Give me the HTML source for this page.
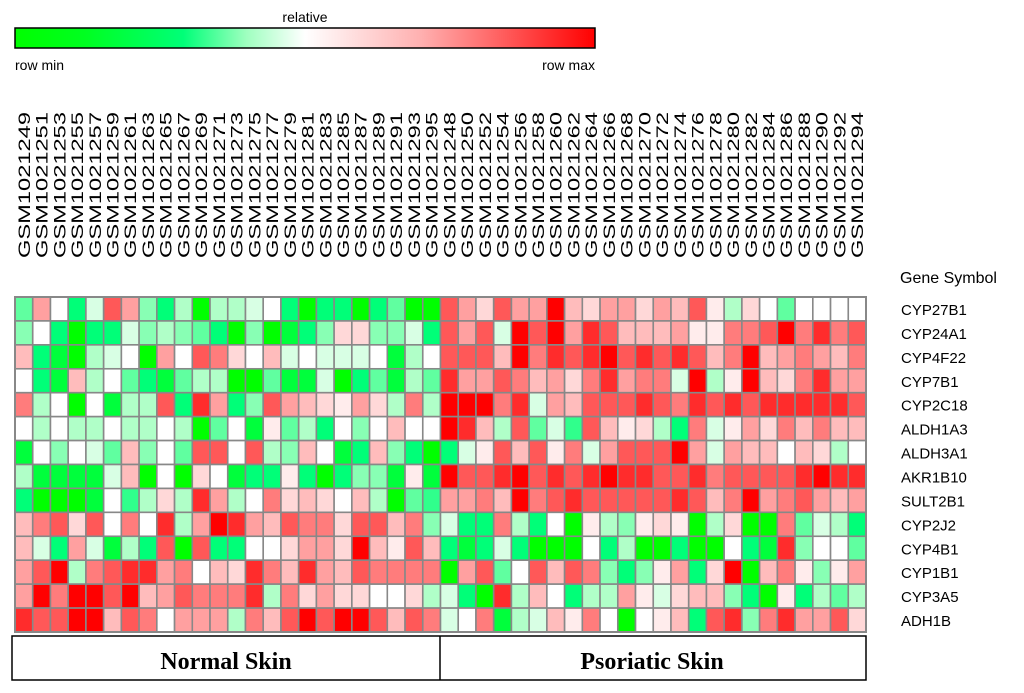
<!DOCTYPE html>
<html><head><meta charset="utf-8"><style>
html,body{margin:0;padding:0;background:#fff;}
body{width:1024px;height:693px;overflow:hidden;}
svg{display:block;}
</style></head><body>
<svg id="chart" width="1024" height="693" xmlns="http://www.w3.org/2000/svg" font-family="Liberation Sans, Arial, sans-serif">
<defs><linearGradient id="cg" x1="0" x2="1" y1="0" y2="0">
<stop offset="0" stop-color="#00ff00"/><stop offset="0.12" stop-color="#00ff20"/><stop offset="0.29" stop-color="#00ff78"/><stop offset="0.4" stop-color="#a0ffc0"/><stop offset="0.5" stop-color="#ffffff"/><stop offset="0.7" stop-color="#ffb0b0"/><stop offset="1" stop-color="#ff0000"/>
</linearGradient></defs>
<g>
<text x="305" y="22" font-size="14" text-anchor="middle" fill="#000">relative</text>
<rect x="15" y="28" width="580" height="20" fill="url(#cg)" stroke="#000" stroke-width="1.5"/>
<text x="15" y="70" font-size="14" fill="#000">row min</text>
<text x="595" y="70" font-size="14" text-anchor="end" fill="#000">row max</text>
</g>
<text x="900" y="283" font-size="16" fill="#000">Gene Symbol</text>
<g id="cols"></g>
<g id="rows"></g>
<g id="cells"></g>
<g>
<rect x="12" y="636" width="854" height="44" fill="#fff" stroke="#000" stroke-width="1.5"/>
<line x1="440" y1="636" x2="440" y2="680" stroke="#000" stroke-width="1.5"/>
<text x="226" y="669" font-size="24" font-weight="bold" font-family="Liberation Serif, serif" text-anchor="middle">Normal Skin</text>
<text x="652" y="669" font-size="24" font-weight="bold" font-family="Liberation Serif, serif" text-anchor="middle">Psoriatic Skin</text>
</g>
</svg>
<script>
const genes = ["CYP27B1","CYP24A1","CYP4F22","CYP7B1","CYP2C18","ALDH1A3","ALDH3A1","AKR1B10","SULT2B1","CYP2J2","CYP4B1","CYP1B1","CYP3A5","ADH1B"];
const normalSamples = [249,251,253,255,257,259,261,263,265,267,269,271,273,275,277,279,281,283,285,287,289,291,293,295];
const psoriaticSamples = [248,250,252,254,256,258,260,262,264,266,268,270,272,274,276,278,280,282,284,286,288,290,292,294];
// values 0 (row min, green) .. 4 (white) .. 8 (row max, red)
const normalValues = [
[2,6,4,1,3.5,7,6,2.5,1,3,0,3,3,3.5,4,1,0,1,1,0,1,2,0,0],
[2.5,4,1,0,1,1,3.5,2.5,3,2.5,2,1,0,2.5,0,0.5,1,2.5,5,5,2.5,2.5,3.5,1],
[5.5,1,0.5,0,3,3.5,4,0,6,4,7,6.5,5,4,5.5,3.5,4,3.5,3.5,3.5,4,0.5,3,4],
[4,1,0.5,5.5,3,4,2,1,0.5,2,3,3,0,0,2,0.5,0.5,3.5,0,1,2,0.5,3,2],
[6.5,3,4,0,4,0.5,3,3,7,1,7.5,6,1,2.5,7,6,5.5,5,4.5,6,5,3,6.5,3],
[4,3,4,3,3,4,3,3,4,3,0,2,4,0.5,4.5,2,3,1,4,2.5,4,5.5,4,4],
[0.5,4,2.5,4,3.5,2,5.5,2.5,4,2,7,7,4,7,3,2.5,5.5,4,0.5,1,5.5,2.5,1,0],
[3,0.5,0.5,0.5,0.5,3.5,5.5,0,4,0,5,4,0.5,1,1,4.5,1,0,1,2.5,2.5,0.5,4.5,0.5],
[1,0,0,0,0.5,4,1.5,3,5,3,7.5,6,3,4,6.5,5,5.5,5,4,5.5,3,0,2,1.5],
[5.5,6.5,7,5,7,4,6.5,4,7.5,3,6,8,7.5,6,5.5,7,6.5,6.5,5,7,7,5.5,6.5,2.5],
[5.5,3.5,1,6,3.5,0.5,3,1,7,0,7,1,1,4,4,5,6,6,5,8,5.5,4.5,7,5.5],
[6,7,8,3,6.5,7,7.5,7.5,6,6.5,4,5.5,5,7.5,6.5,5.5,7.5,6,5.5,7,6.5,6.5,6.5,6.5],
[6,8,6.5,8,8,7,8,5.5,6,7,6.5,6.5,6.5,7.5,3,6.5,5,6,5,5,4,4,5,3],
[7.5,7,7,8,8,5.5,7,6.5,4,6,6,6,3,6.5,5.5,7,8,7,8,8,7,5.5,7,6.5]
];
const psoriaticValues = [
[7,6,5,7,6,6,8,5.5,5,6,6,5,6,5.5,7,4.5,3,5,4,2,4,4,4,4],
[7,6,7,3.5,8,7,8,6,7.5,7,5.5,5.5,5.5,6,4.5,4.5,6.5,6.5,7,8,6.5,7.5,6.5,7],
[7,7,7,5.5,8,6.5,7.5,7,7.5,8,7,7.5,7,7.5,7,5.5,6.5,8,5.5,6,6.5,6,5.5,6.5],
[7.5,6,6,7,6.5,5.5,6,5,6.5,7.5,6,6.5,6.5,3.5,8,3,4.5,8,5.5,5,6.5,7.5,6,6],
[8,8,8,6.5,7.5,3.5,6,5.5,7,7,7,7.5,7,6.5,7.5,7,7.5,7,7.5,7.5,7.5,7.5,7.5,7],
[8,7.5,5.5,3,7,2,3.5,1.5,7,5.5,4.5,5,3,1,6.5,3.5,4.5,6,5,6.5,5.5,6.5,5.5,5.5],
[1,3.5,4.5,7,5.5,7,4.5,6.5,3.5,6,7,7,7,8,6,3.5,6,5.5,5.5,4,5.5,5,3,4],
[8,7,7,7.5,8,7,7.5,7,7.5,8,7.5,7.5,7,7,7.5,6.5,7,7,7,7,7.5,8,7.5,7.5],
[6,6,6.5,5.5,8,6.5,7,7.5,7,7,7,7,7,7.5,7,5.5,6.5,8,6,6.5,7,6,5.5,6],
[3.5,1,1,6.5,3,1,4,0,4.5,3,2.5,4.5,5,4.5,0,3,5,0,0,6.5,2,3.5,3,1],
[1,0.5,1,3.5,1,0,0,0,4,1,3,0,0,1,0,0,4,1,0.5,7.5,2.5,4,4,2],
[0,6,7,2,4,7,5.5,7,6.5,2.5,1,2.5,4.5,6,1,5,8,0,5.5,6.5,4.5,2.5,4.5,6],
[3.5,1,0,7.5,3,5.5,4,1,3,3,6,4.5,3.5,5,5.5,5.5,2.5,1,0,4.5,1,3,2,3],
[3.5,4,6.5,0.5,3,3.5,5.5,4.5,6.5,4,0,4,4.5,5.5,1,7,7.5,2.5,6.5,7.5,6,6,7,5]
];
const NS="http://www.w3.org/2000/svg";
const X0=15, X1=866, Y0=297, Y1=632;
const nCols=normalSamples.length+psoriaticSamples.length;
const cw=(X1-X0)/nCols, ch=(Y1-Y0)/genes.length;
function xPos(i){return X0+i*cw;}
function yPos(r){return Y0+r*ch;}
const stops=[[0,[0,255,0]],[1,[0,255,120]],[2,[96,255,160]],[3,[176,255,200]],[4,[255,255,255]],[5,[255,216,216]],[6,[255,160,160]],[7,[255,88,88]],[8,[255,0,0]]];
function color(v){
  v=Math.max(0,Math.min(8,v));
  let i=Math.min(7,Math.floor(v)), t=v-i;
  const a=stops[i][1], b=stops[i+1][1];
  const c=a.map((x,k)=>Math.round(x+(b[k]-x)*t));
  return `rgb(${c[0]},${c[1]},${c[2]})`;
}
const cells=document.getElementById('cells');
const samples=normalSamples.concat(psoriaticSamples);
for(let r=0;r<genes.length;r++){
  const vals=normalValues[r].concat(psoriaticValues[r]);
  for(let c=0;c<vals.length;c++){
    const rc=document.createElementNS(NS,'rect');
    rc.setAttribute('x',xPos(c));rc.setAttribute('y',yPos(r));
    rc.setAttribute('width',cw);rc.setAttribute('height',ch);
    rc.setAttribute('fill',color(vals[c]));
    rc.setAttribute('stroke','#888');rc.setAttribute('stroke-width','1.6');
    
    
    cells.appendChild(rc);
  }
}
const border=document.createElementNS(NS,'rect');
border.setAttribute('x',X0);border.setAttribute('y',Y0);border.setAttribute('width',X1-X0);border.setAttribute('height',Y1-Y0);
border.setAttribute('fill','none');border.setAttribute('stroke','#888');border.setAttribute('stroke-width','2');


cells.appendChild(border);
const cols=document.getElementById('cols');
samples.forEach((s,c)=>{
  const t=document.createElementNS(NS,'text');
  const x=xPos(c)+cw/2+6, y=258;
  t.setAttribute('transform',`translate(${x},${y}) rotate(-90)`);
  t.setAttribute('font-size','17');
  t.setAttribute('textLength','146');t.setAttribute('lengthAdjust','spacingAndGlyphs');
  t.textContent='GSM1021'+s;
  
  
  cols.appendChild(t);
});
const rows=document.getElementById('rows');
genes.forEach((g,r)=>{
  const t=document.createElementNS(NS,'text');
  t.setAttribute('x',901);t.setAttribute('y',yPos(r)+ch/2+6);
  t.setAttribute('font-size','15');
  t.textContent=g;
  
  
  rows.appendChild(t);
});
</script>
</body></html>
